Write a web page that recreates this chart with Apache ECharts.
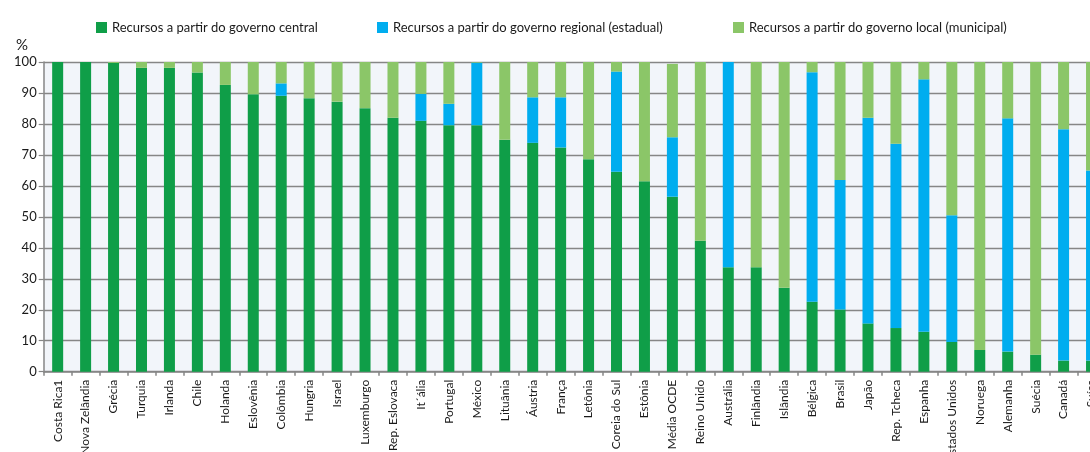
<!DOCTYPE html>
<html><head><meta charset="utf-8">
<script src="https://cdn.jsdelivr.net/npm/echarts@6/dist/echarts.min.js"></script>
<style>html,body{margin:0;padding:0;background:#fff}#c{width:1090px;height:452px}</style>
</head><body><div id="c"></div>
<script>
const categories = ["Costa Rica1","Nova Zelândia","Grécia","Turquia","Irlanda","Chile","Holanda","Eslovênia","Colômbia","Hungria","Israel","Luxemburgo","Rep. Eslovaca","It´ália","Portugal","México","Lituânia","Áustria","França","Letônia","Coreia do Sul","Estônia","Média OCDE","Reino Unido","Austrália","Finlândia","Islândia","Bélgica","Brasil","Japão","Rep. Tcheca","Espanha","Estados Unidos","Noruega","Alemanha","Suécia","Canadá","Suíça"];
const seriesNames = ["Recursos a partir do governo central","Recursos a partir do governo regional (estadual)","Recursos a partir do governo local (municipal)"];
const central = [100,100,99.7,98.1,98.1,96.6,92.6,89.6,89.1,88.3,87.2,85.1,82.0,81.0,79.6,79.6,74.9,73.9,72.4,68.6,64.6,61.5,56.5,42.3,33.7,33.7,27.1,22.6,20.1,15.6,14.1,12.9,9.6,7.0,6.5,5.5,3.6,3.6];
const regional = [0,0,0,0,0,0,0,0,4.0,0,0,0,0,8.7,6.9,20.2,0,14.7,16.2,0,32.3,0,19.2,0,66.3,0,0,74.1,41.8,66.4,59.5,81.5,40.9,0,75.3,0,74.7,61.4];
const local = [0,0,0.3,1.9,1.9,3.4,7.4,10.4,6.9,11.7,12.8,14.9,18.0,10.3,13.5,0.2,25.1,11.4,11.4,31.4,3.1,38.5,23.7,57.7,0,66.3,72.9,3.3,38.1,18.0,26.4,5.6,49.5,93.0,18.2,94.5,21.7,35.0];
const yTicks = [0,10,20,30,40,50,60,70,80,90,100];

const colors = ['#0f9e48','#00adef','#8bc668'];
const font = 'Lato, "Open Sans", sans-serif';
const chart = echarts.init(document.getElementById('c'), null, {renderer:'canvas'});
function leg(name, left){
  return {data:[name], left:left, top:16, itemWidth:11, itemHeight:11, icon:'rect', itemGap:5,
    textStyle:{fontFamily:font, fontSize:13, color:'#1a1a1a'}, selectedMode:false};
}
chart.setOption({
  animation:false,
  title:{text:'%', left:11, top:33, textStyle:{fontFamily:font, fontSize:15, fontWeight:'normal', color:'#1a1a1a'}},
  legend:[leg(seriesNames[0],91), leg(seriesNames[1],372), leg(seriesNames[2],728)],
  grid:{left:43.7, right:-15.5, top:62, bottom:80.3, outerBoundsMode:'none', containLabel:false,
    show:true, backgroundColor:'#f2f5fa', borderWidth:0},
  xAxis:{type:'category', data:categories,
    axisLine:{lineStyle:{color:'#868686', width:1.5}},
    axisTick:{show:true, length:4, lineStyle:{color:'#868686', width:1.5}},
    axisLabel:{rotate:90, margin:8, interval:0, fontFamily:font, fontSize:12, color:'#1a1a1a', hideOverlap:false}},
  yAxis:{type:'value', min:0, max:100, interval:10,
    axisLine:{show:true, lineStyle:{color:'#868686', width:1.5}},
    axisTick:{show:true, length:5, lineStyle:{color:'#868686', width:1.2}},
    splitLine:{lineStyle:{color:'#868686', width:1.3}},
    axisLabel:{margin:7, fontFamily:font, fontSize:13, color:'#1a1a1a',
      formatter:v=> yTicks.indexOf(v)>=0 ? String(v) : ''}},
  series:[
    {name:seriesNames[0], type:'bar', stack:'s', data:central, barWidth:11, itemStyle:{color:colors[0]}},
    {name:seriesNames[1], type:'bar', stack:'s', data:regional, barWidth:11, itemStyle:{color:colors[1]}},
    {name:seriesNames[2], type:'bar', stack:'s', data:local, barWidth:11, itemStyle:{color:colors[2]}}
  ]
});
</script></body></html>
